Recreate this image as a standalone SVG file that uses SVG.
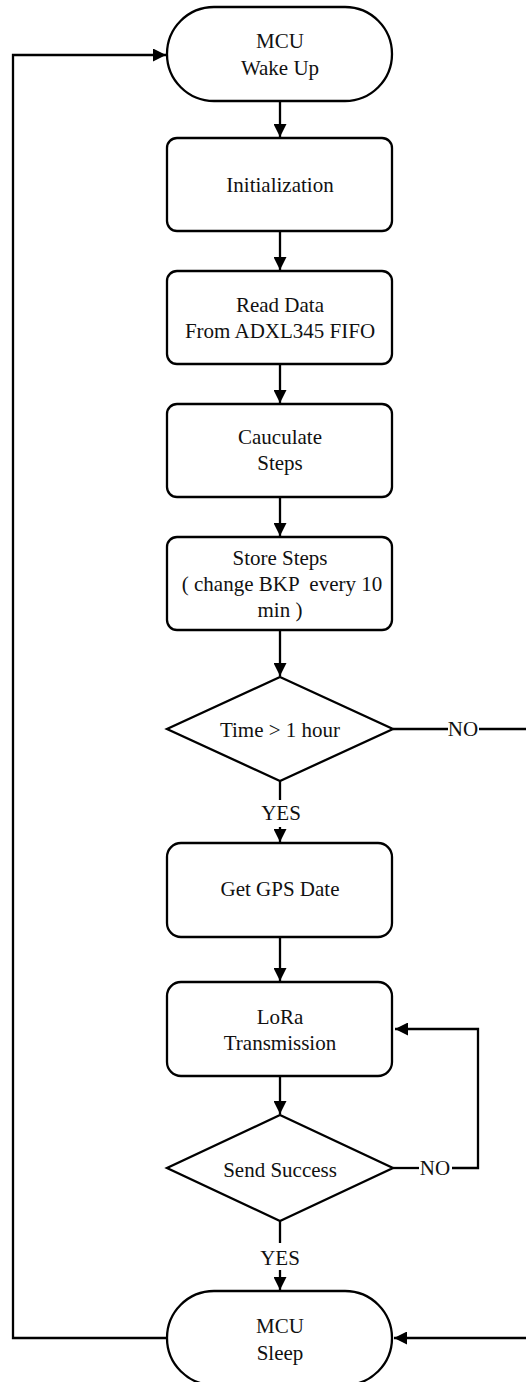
<svg xmlns="http://www.w3.org/2000/svg" width="526" height="1382" viewBox="0 0 526 1382">
<defs>
<style>
.box{fill:#fff;stroke:#000;stroke-width:2.3}
.ln{fill:none;stroke:#000;stroke-width:2.3}
text{font-family:'Liberation Serif',serif;font-size:21px;fill:#111;text-anchor:middle}
</style>
<marker id="ah" viewBox="0 0 10 10" refX="10" refY="5" markerWidth="13" markerHeight="13" markerUnits="userSpaceOnUse" orient="auto">
<path d="M0,0 L10,5 L0,10 Z" fill="#000"/>
</marker>
</defs>
<rect width="526" height="1382" fill="#fff"/>
<g id="connectors">
<path class="ln" d="M280,101 V137" marker-end="url(#ah)"/>
<path class="ln" d="M280,231 V270" marker-end="url(#ah)"/>
<path class="ln" d="M280,364 V403" marker-end="url(#ah)"/>
<path class="ln" d="M280,497 V536" marker-end="url(#ah)"/>
<path class="ln" d="M280,630 V676" marker-end="url(#ah)"/>
<path class="ln" d="M280,781 V800"/>
<path class="ln" d="M280,827 V842" marker-end="url(#ah)"/>
<path class="ln" d="M280,937 V981" marker-end="url(#ah)"/>
<path class="ln" d="M280,1076 V1114" marker-end="url(#ah)"/>
<path class="ln" d="M280,1221 V1243"/>
<path class="ln" d="M280,1270 V1290" marker-end="url(#ah)"/>
<path class="ln" d="M393,729 H448"/>
<path class="ln" d="M479,729 H540 V1338 H394" marker-end="url(#ah)"/>
<path class="ln" d="M393,1168 H419"/>
<path class="ln" d="M452,1168 H478 V1029 H395" marker-end="url(#ah)"/>
<path class="ln" d="M167,1338 H13 V55 H166" marker-end="url(#ah)"/>
<text x="463" y="736">NO</text>
<text x="281" y="820">YES</text>
<text x="435" y="1175">NO</text>
<text x="280" y="1265">YES</text>
</g>
<g id="wake">
<rect class="box" x="167" y="7" width="225" height="94" rx="47"/>
<text x="280" y="48">MCU</text>
<text x="280" y="75">Wake Up</text>
</g>
<g id="init">
<rect class="box" x="167" y="138" width="225" height="93" rx="10"/>
<text x="280" y="192">Initialization</text>
</g>
<g id="read">
<rect class="box" x="167" y="271" width="225" height="93" rx="10"/>
<text x="280" y="312">Read Data</text>
<text x="280" y="338">From ADXL345 FIFO</text>
</g>
<g id="calc">
<rect class="box" x="167" y="404" width="225" height="93" rx="10"/>
<text x="280" y="444">Cauculate</text>
<text x="280" y="470">Steps</text>
</g>
<g id="store">
<rect class="box" x="167" y="537" width="225" height="93" rx="10"/>
<text x="280" y="565">Store Steps</text>
<text x="282" y="591" xml:space="preserve">( change BKP  every 10</text>
<text x="280" y="617">min )</text>
</g>
<g id="time">
<polygon class="box" points="280,677 393,729 280,781 167,729"/>
<text x="280" y="737">Time &gt; 1 hour</text>
</g>
<g id="gps">
<rect class="box" x="167" y="843" width="225" height="94" rx="14"/>
<text x="280" y="896">Get GPS Date</text>
</g>
<g id="lora">
<rect class="box" x="167" y="982" width="225" height="94" rx="14"/>
<text x="280" y="1024">LoRa</text>
<text x="280" y="1050">Transmission</text>
</g>
<g id="send">
<polygon class="box" points="280,1115 393,1168 280,1221 167,1168"/>
<text x="280" y="1177">Send Success</text>
</g>
<g id="sleep">
<rect class="box" x="167" y="1291" width="225" height="94" rx="47"/>
<text x="280" y="1333">MCU</text>
<text x="280" y="1360">Sleep</text>
</g>
</svg>
